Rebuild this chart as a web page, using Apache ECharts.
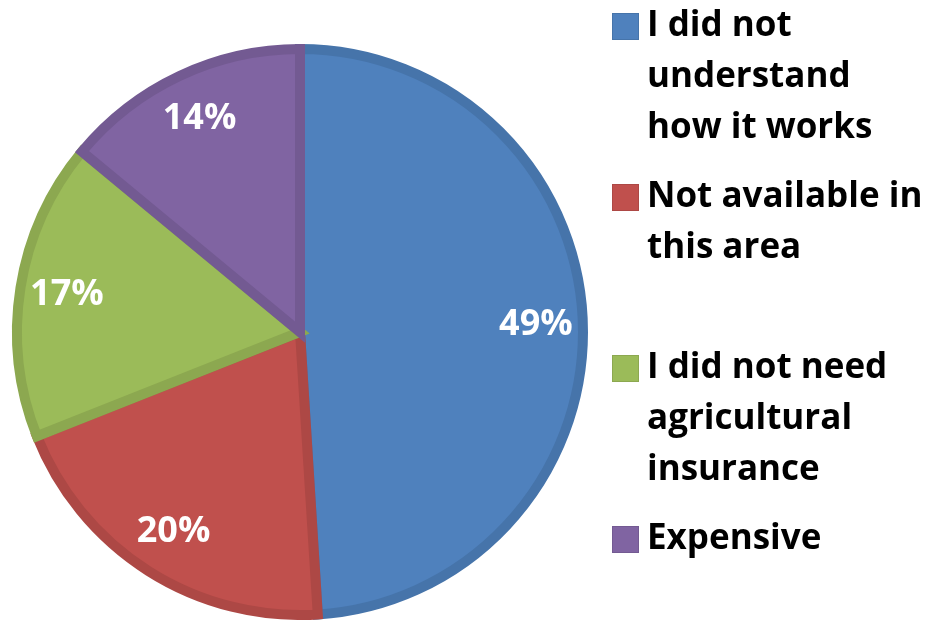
<!DOCTYPE html>
<html>
<head>
<meta charset="utf-8">
<script src="https://cdn.jsdelivr.net/npm/echarts@6/dist/echarts.min.js"></script>
<style>
  html, body { margin: 0; padding: 0; background: #ffffff; }
  #chart { width: 928px; height: 620px; }
</style>
</head>
<body>
<div id="chart"></div>
<script>
// Reasons given for not taking up agricultural insurance (share of respondents, %)
const categories = [
  'I did not understand how it works',
  'Not available in this area',
  'I did not need agricultural insurance',
  'Expensive'
];
// How each legend entry wraps
const legendLines = [
  ['I did not', 'understand', 'how it works'],
  ['Not available in', 'this area'],
  ['I did not need', 'agricultural', 'insurance'],
  ['Expensive']
];
const shares = [49, 20, 17, 14];

const fillColors = ['#4F81BD', '#C0504D', '#9BBB59', '#8064A2'];
const edgeColors = ['#4674AA', '#AD4845', '#8CA850', '#735A92'];

const FONT = '"Open Sans", "DejaVu Sans", sans-serif';
const CENTER = [300, 332];
const LEGEND_TOP = 9;       // top of the first legend entry
const LEGEND_STEP = 171;    // equal vertical slot per legend entry

const pieData = categories.map((name, i) => ({
  name: name,
  value: shares[i],
  itemStyle: { color: fillColors[i], borderColor: edgeColors[i] }
}));

// Rich-text styles: a coloured square on the first line of each legend entry
const legendRich = {
  t: { fontFamily: FONT, fontWeight: 'bold', fontSize: 35, lineHeight: 51, color: '#000000' },
  gap: { width: 9, height: 51 },
  ind: { width: 34, height: 51 }
};
fillColors.forEach((c, i) => {
  legendRich['sq' + i] = { width: 25, height: 25, backgroundColor: c, borderColor: edgeColors[i], borderWidth: 1 };
});

function legendText(name) {
  const i = categories.indexOf(name);
  return legendLines[i].map((line, k) =>
    (k === 0 ? '{sq' + i + '|}{gap|}' : '{ind|}') + '{t|' + line + '}'
  ).join('\n');
}

// one legend block per category, stacked in equal slots
const legends = categories.map((name, i) => ({
  orient: 'vertical',
  left: 607,
  top: LEGEND_TOP + i * LEGEND_STEP,
  padding: 0,
  itemWidth: 0,
  itemHeight: 0,
  icon: 'rect',
  selectedMode: false,
  data: [name],
  formatter: legendText,
  textStyle: { rich: legendRich }
}));

const chart = echarts.init(document.getElementById('chart'), null, { renderer: 'canvas' });

chart.setOption({
  animation: false,
  backgroundColor: '#ffffff',
  legend: legends,
  series: [
    {
      type: 'pie',
      name: 'slices',
      center: CENTER,
      radius: 283,
      startAngle: 90,
      clockwise: true,
      silent: true,
      label: { show: false },
      labelLine: { show: false },
      itemStyle: { borderWidth: 10, borderJoin: 'miter' },
      emphasis: { disabled: true },
      data: pieData
    },
    {
      // transparent ring that only carries the percentage labels
      type: 'pie',
      name: 'labels',
      center: CENTER,
      radius: [180, 286],
      startAngle: 90,
      clockwise: true,
      silent: true,
      legendHoverLink: false,
      itemStyle: { color: 'rgba(0,0,0,0)', borderWidth: 0 },
      emphasis: { disabled: true },
      labelLine: { show: false },
      label: {
        show: true,
        position: 'inside',
        formatter: '{c}%',
        fontFamily: FONT,
        fontWeight: 'bold',
        fontSize: 36,
        color: '#ffffff'
      },
      data: categories.map((name, i) => ({ name: name, value: shares[i] }))
    }
  ]
});
</script>
</body>
</html>
